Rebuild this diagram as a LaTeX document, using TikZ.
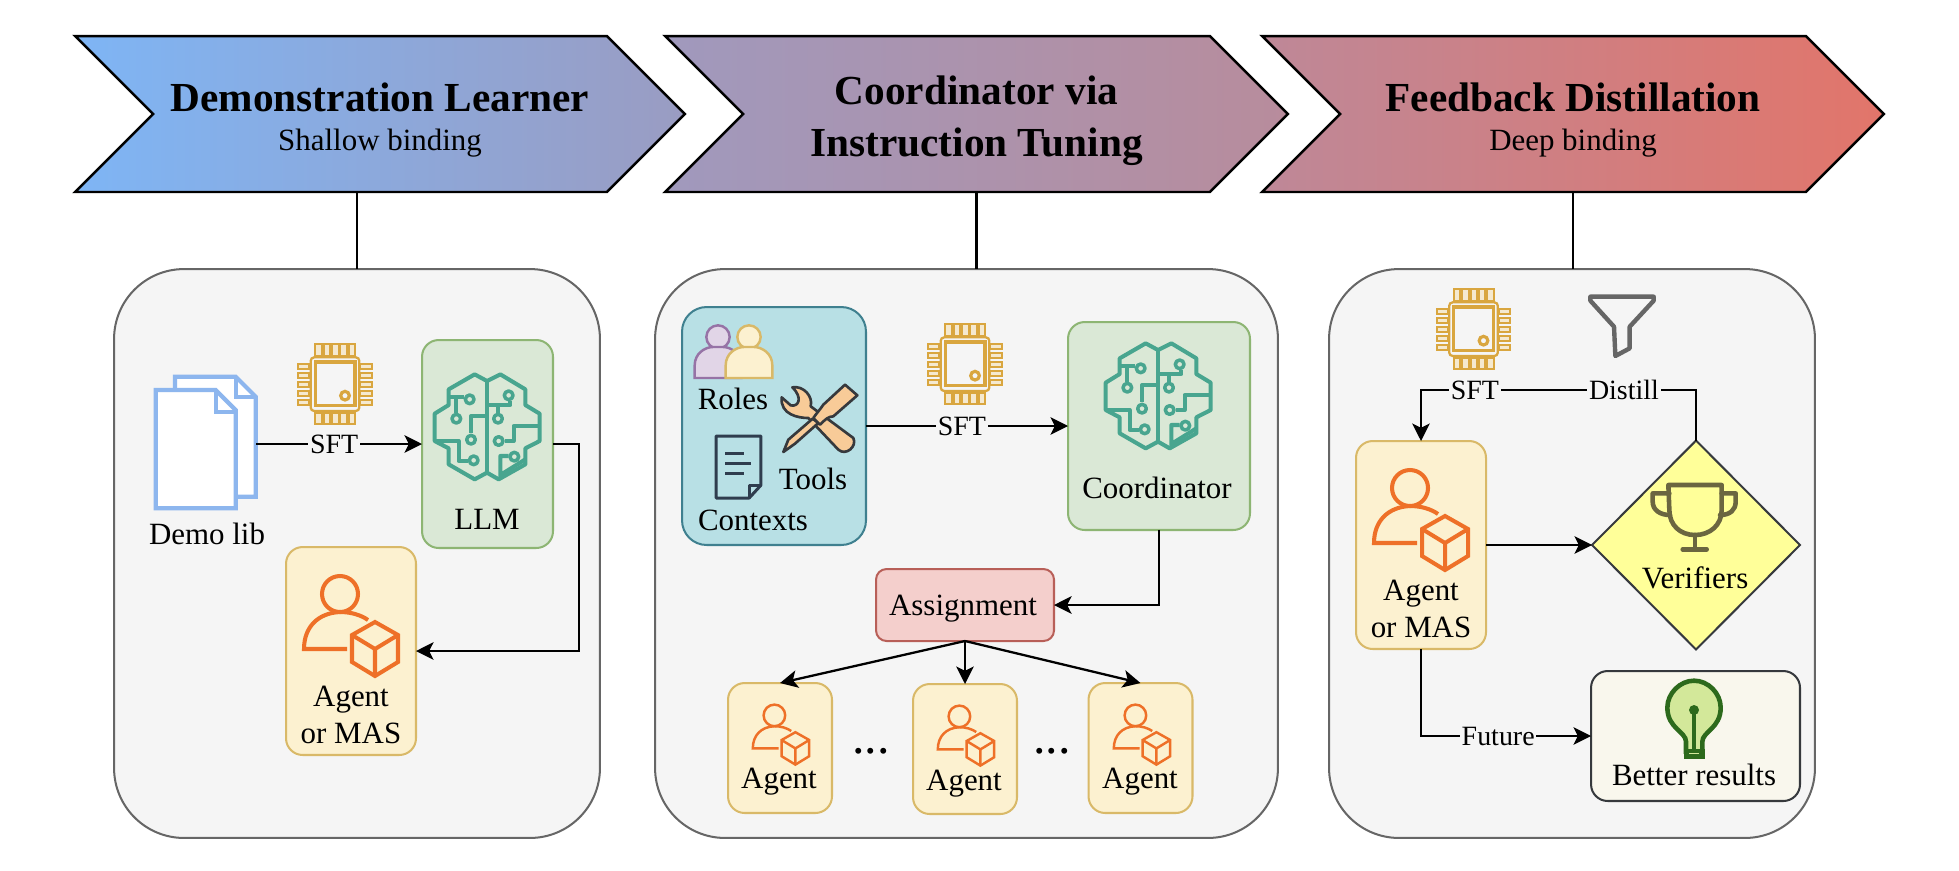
\documentclass[tikz,border=0pt]{standalone}
\usepackage{fontspec}
\setmainfont{Liberation Serif}
\usetikzlibrary{arrows.meta,shapes.geometric,shapes.symbols}
\definecolor{chipc}{HTML}{D9A63F}
\definecolor{brainc}{HTML}{48A58F}
\definecolor{agentc}{HTML}{EE7028}
\definecolor{docc}{HTML}{8DB6EE}
\definecolor{darkc}{HTML}{2F3D4E}
\definecolor{toolc}{HTML}{36393D}
\definecolor{toolf}{HTML}{F8CB98}
\definecolor{greenf}{HTML}{DAE8D6}
\definecolor{greend}{HTML}{8DB573}
\definecolor{yellf}{HTML}{FCF1D0}
\definecolor{yelld}{HTML}{D9B968}
\definecolor{tealf}{HTML}{B8E0E5}
\definecolor{teald}{HTML}{3F808F}
\definecolor{redf}{HTML}{F4CFCC}
\definecolor{redd}{HTML}{B85F58}
\definecolor{purpf}{HTML}{E1D5E7}
\definecolor{purpd}{HTML}{9673A6}
\definecolor{verif}{HTML}{FFFF99}
\definecolor{betterf}{HTML}{F9F7ED}
\definecolor{bulbf}{HTML}{D3E89A}
\definecolor{bulbd}{HTML}{2D6A1C}
\definecolor{cupc}{HTML}{6B6640}
\definecolor{grad1}{HTML}{7EB5F5}
\definecolor{grad2}{HTML}{9A9CC2}
\definecolor{grad3}{HTML}{A099BD}
\definecolor{grad4}{HTML}{B88C9C}
\definecolor{grad5}{HTML}{BE8898}
\definecolor{grad6}{HTML}{E2756A}
\tikzset{
  chev/.style={signal,signal from=west,signal to=east,signal pointer angle=90,draw=black,line width=1.4pt,
    minimum height=3.12cm,inner sep=0pt,outer sep=0pt,align=center,font=\fontsize{17.6}{22.5}\selectfont},
  panel/.style={draw=black!60,fill=black!4,rounded corners=1.4cm,line width=1.15pt,inner sep=0pt,outer sep=0pt},
  box/.style={draw,rounded corners=9.5pt,line width=1.15pt,inner sep=0pt,outer sep=0pt},
  agentbox/.style={box,draw=yelld,fill=yellf},
  llmbox/.style={box,draw=greend,fill=greenf},
  lbl/.style={font=\fontsize{17.6}{21}\selectfont,inner sep=0pt,anchor=base,align=center},
  sft/.style={font=\fontsize{15.9}{19}\selectfont,fill=black!4,inner sep=1pt},
  link/.style={line width=1.3pt,-{Stealth[length=10pt,width=10pt,inset=2.5pt]}},
  chipicon/.pic={
    \begin{scope}[x=.00667cm,y=-.00667cm,shift={(-735,-432)},draw=chipc,line width=1.3pt]
      \foreach \a in {686,711,736,761,786} {
        \draw[fill=chipc!25] (\a-10,313) rectangle (\a+10,347);
        \draw[fill=chipc!25] (\a-10,518) rectangle (\a+10,552);
      }
      \foreach \b in {380,407,434,461,488} {
        \draw[fill=chipc!25] (625,\b-8) rectangle (658,\b+8);
        \draw[fill=chipc!25] (810,\b-8) rectangle (845,\b+8);
      }
      \draw[rounded corners=2pt] (662,352) rectangle (808,513);
      \draw[line width=1.8pt] (676,366) rectangle (795,497);
      \draw[line width=1.8pt] (765,467) circle (13);
    \end{scope}
  },
  brainicon/.pic={
    \begin{scope}[x=.00667cm,y=-.00667cm,shift={(-265,-528)},draw=brainc,line width=2.3pt,line join=round]
      \draw (265,390)--(228,370)--(150,415)--(150,462)--(108,488)--(108,570)--(150,592)--(150,640)--(228,685)--(265,665)--(300,685)--(380,640)--(380,592)--(423,570)--(423,488)--(380,462)--(380,415)--(305,370)--cycle;
      \draw (265,390)--(265,665);
      \draw (150,438)--(195,438) (172,438)--(172,485);
      \draw (265,495)--(217,495)--(217,547);
      \draw (108,570)--(180,570)--(180,630)--(207,630);
      \draw (265,462)--(335,462)--(335,450) (298,462)--(298,485);
      \draw (423,525)--(345,525)--(345,570)--(318,570);
      \draw (305,680)--(305,615)--(330,615) (305,672)--(380,625);
      \foreach \u/\v in {213/445,173/503,217/566,225/628,330/433,298/503,300/570,347/617}
        \draw[line width=2pt] (\u,\v) circle (13);
    \end{scope}
  },
  agenticon/.pic={
    \begin{scope}[line join=miter]
      \path[pic actions,draw=agentc] (-11,-31) circle (18);
      \path[pic actions,draw=agentc] (-4,24) -- (-47,24) .. controls (-47,2) and (-33,-12) .. (-11,-13) .. controls (0,-13) and (10,-10) .. (17,-5);
      \path[pic actions,draw=agentc] (24,-3) -- (47,10) -- (47,37) -- (24,51) -- (1,37) -- (1,10) -- cycle;
      \path[pic actions,draw=agentc] (1,10) -- (24,24) -- (47,10) (24,24) -- (24,51);
    \end{scope}
  },
  personicon/.pic={
    \begin{scope}[x=.00667cm,y=-.00667cm]
      \path[pic actions] (0,0) circle (35);
      \path[pic actions] (-70,123) -- (-70,85) .. controls (-70,50) and (-40,30) .. (-15,30) -- (15,30) .. controls (40,30) and (70,50) .. (70,85) -- (70,123) -- cycle;
    \end{scope}
  },
  pagesicon/.pic={
    \begin{scope}[x=.00667cm,y=-.00667cm,shift={(-348,-609)},draw=docc,line width=2.4pt]
      \draw[fill=white] (255,410) -- (437,410) -- (497,470) -- (497,770) -- (255,770) -- cycle;
      \draw (437,410) -- (437,470) -- (497,470);
      \draw[fill=white] (197,450) -- (377,450) -- (437,510) -- (437,805) -- (197,805) -- cycle;
      \draw (377,450) -- (377,515) -- (437,515);
    \end{scope}
  },
  toolsicon/.pic={
    \begin{scope}[x=.00667cm,y=-.00667cm,shift={(-150,-130)},draw=toolc,line width=1.5pt,line join=round]
      \draw[fill=toolf] (67,38) .. controls (100,32) and (130,65) .. (122,95) -- (250,190) .. controls (262,215) and (228,245) .. (205,225) -- (115,130) .. controls (85,130) and (30,120) .. (35,68) -- (62,92) .. controls (85,98) and (100,70) .. (67,38) -- cycle;
      \draw[fill=toolf] (145,145) -- (75,207) -- (40,232) -- (55,195) -- (128,132) -- cycle;
      \draw[fill=toolf] (225,30) -- (262,62) -- (190,125) .. controls (175,125) and (165,135) .. (150,150) -- (130,130) .. controls (140,115) and (150,105) .. (160,90) -- cycle;
    \end{scope}
  },
  pageicon/.pic={
    \begin{scope}[x=.00667cm,y=.00667cm,draw=darkc,line width=1.7pt,line join=round]
      \draw (-67,-93) -- (32,-93) -- (67,-55) -- (67,93) -- (-67,93) -- cycle;
      \draw (32,-93) -- (32,-55) -- (67,-55);
      \draw (-40,-18) -- (15,-18) (-40,12) -- (37,12) (-40,42) -- (15,42);
    \end{scope}
  },
  funnelicon/.pic={
    \begin{scope}[x=.00667cm,y=-.00667cm,shift={(-127,-138)},draw=black!60,line width=2.5pt,line join=round]
      \draw (32,50) -- (222,50) -- (222,62) -- (150,140) -- (150,205) -- (107,228) -- (103,140) -- (32,62) -- cycle;
    \end{scope}
  },
  trophyicon/.pic={
    \begin{scope}[x=.00667cm,y=-.00667cm,shift={(-345,-705)},draw=cupc,line width=2.6pt,line join=round,line cap=round]
      \draw (265,615) -- (425,615) -- (425,690) .. controls (425,735) and (390,765) .. (345,765) .. controls (300,765) and (268,735) .. (268,690) -- cycle;
      \draw (268,640) -- (218,640) -- (218,665) .. controls (218,690) and (240,705) .. (270,705);
      \draw (425,640) -- (467,640) -- (467,665) .. controls (467,690) and (450,705) .. (420,705);
      \draw (345,765) -- (345,805) (308,808) -- (380,808);
    \end{scope}
  },
  bulbicon/.pic={
    \begin{scope}[x=.00667cm,y=-.00667cm,shift={(-342,-180)},draw=bulbd,line width=2.6pt]
      \draw[fill=bulbf] (318,275) -- (318,245) .. controls (318,215) and (262,205) .. (262,143) .. controls (262,100) and (300,62) .. (342,62) .. controls (385,62) and (422,100) .. (422,143) .. controls (422,205) and (367,215) .. (367,245) -- (367,275) -- cycle;
      \draw[line width=2.6pt] (342,150) -- (342,270);
      \fill[bulbd] (342,150) circle (15);
      \fill[bulbd] (312,268) rectangle (375,298);
      \fill[bulbf] (328,278) rectangle (358,283);
    \end{scope}
  }
}
\begin{document}
\begin{tikzpicture}[x=0.02cm,y=-0.02cm]
  \useasboundingbox (0,0) rectangle (1959,870);
  \node[panel,minimum width=9.72cm,minimum height=11.38cm] (panel1) at (357,553.5) {};
  \node[panel,minimum width=12.46cm,minimum height=11.38cm] (panel2) at (966.5,553.5) {};
  \node[panel,minimum width=9.72cm,minimum height=11.38cm] (panel3) at (1572,553.5) {};

  \node[chev,minimum width=12.2cm,left color=grad1,right color=grad2] (chev1) at (380,114)
    {\rule{0pt}{23pt}{\fontsize{23.5}{22.5}\selectfont\bfseries Demonstration Learner}\\Shallow binding};
  \node[chev,minimum width=12.46cm,left color=grad3,right color=grad4] (chev2) at (976.5,114)
    {\rule{0pt}{24pt}\fontsize{23.5}{22.5}\selectfont\bfseries Coordinator via\\[6.7pt]\fontsize{23.5}{22.5}\selectfont\bfseries Instruction Tuning};
  \node[chev,minimum width=12.44cm,left color=grad5,right color=grad6] (chev3) at (1573,114)
    {\rule{0pt}{23pt}{\fontsize{23.5}{22.5}\selectfont\bfseries Feedback Distillation}\\Deep binding};
  \draw[line width=1.2pt] (panel1.north) -- (panel1.north |- chev1.south);
  \draw[line width=1.2pt] (chev2.south) -- (chev2.south |- panel2.north);
  \draw[line width=1.2pt] (chev3.south) -- (chev3.south |- panel3.north);

  \node[inner sep=0pt,minimum width=2cm,minimum height=2.62cm] (demolib) at (206,444) {};
  \pic at (206,443) {pagesicon};
  \node[lbl] (demolbl) at (207,544) {Demo lib};
  \pic at (335,384) {chipicon};
  \node[llmbox,minimum width=2.62cm,minimum height=4.16cm] (llm) at (487.5,444) {};
  \pic at (487,427) {brainicon};
  \node[lbl] (llmlbl) at (487,529) {LLM};
  \node[agentbox,minimum width=2.6cm,minimum height=4.16cm] (agent1) at (351,651) {};
  \pic[line width=2.3pt] at (351,625) {agenticon};
  \node[lbl] (agent1lbl) at (351,706) {Agent};
  \node[lbl] (agent1mas) at (351,743) {or MAS};
  \coordinate (bend1) at (579,651);
  \draw[link] (demolib.east) -- node[sft,pos=.47] (sft1) {SFT} (llm.west);
  \draw[link] (llm.east) -| (bend1) -- (agent1.east);

  \node[box,rounded corners=14pt,draw=teald,fill=tealf,minimum width=3.68cm,minimum height=4.76cm] (ctx) at (774,426) {};
  \pic[draw=purpd,fill=purpf,line width=1.4pt] at (718,337) {personicon};
  \pic[draw=yelld,fill=yellf,line width=1.4pt] at (749,337) {personicon};
  \node[lbl] (roleslbl) at (733,409) {Roles};
  \pic at (820,418) {toolsicon};
  \node[lbl] (toolslbl) at (813,489) {Tools};
  \pic at (738.5,467) {pageicon};
  \node[lbl] (ctxlbl) at (753,530) {Contexts};
  \pic at (965,364) {chipicon};
  \node[llmbox,minimum width=3.64cm,minimum height=4.16cm] (coord) at (1159,426) {};
  \pic at (1158,396) {brainicon};
  \node[lbl] (coordlbl) at (1157,498) {Coordinator};
  \node[box,rounded corners=6pt,draw=redd,fill=redf,minimum width=3.56cm,minimum height=1.44cm] (assign) at (965,605) {};
  \node[lbl] (assignlbl) at (963,615) {Assignment};
  \node[agentbox,minimum width=2.08cm,minimum height=2.6cm] (worker1) at (780,748) {};
  \node[agentbox,minimum width=2.08cm,minimum height=2.6cm] (worker2) at (965,749) {};
  \node[agentbox,minimum width=2.08cm,minimum height=2.6cm] (worker3) at (1140.5,748) {};
  \pic[scale=.6,line width=1.4pt] at (781,734) {agenticon};
  \pic[scale=.6,line width=1.4pt] at (966,735) {agenticon};
  \pic[scale=.6,line width=1.4pt] at (1142,734) {agenticon};
  \node[lbl] (worker1lbl) at (779,788) {Agent};
  \node[lbl] (worker2lbl) at (964,790) {Agent};
  \node[lbl] (worker3lbl) at (1140,788) {Agent};
  \node[lbl,font=\fontsize{28.4}{32}\selectfont] (dots1) at (871,753) {...};
  \node[lbl,font=\fontsize{28.4}{32}\selectfont] (dots2) at (1052,753) {...};
  \draw[link] (ctx.east) -- node[sft,pos=.475] (sft2) {SFT} (coord.west);
  \draw[link] (coord.south) |- (assign.east);
  \draw[link] (assign.south) -- (worker1.north);
  \draw[link] (assign.south) -- (worker2.north);
  \draw[link] (assign.south) -- (worker3.north);

  \pic at (1473.5,329) {chipicon};
  \pic at (1622,326) {funnelicon};
  \node[agentbox,minimum width=2.6cm,minimum height=4.16cm] (agent3) at (1421,545) {};
  \pic[line width=2.3pt] at (1421,519) {agenticon};
  \node[lbl] (agent3lbl) at (1421,600) {Agent};
  \node[lbl] (agent3mas) at (1421,637) {or MAS};
  \node[diamond,draw=toolc,fill=verif,line width=1.15pt,inner sep=0pt,outer sep=0pt,minimum width=4.16cm,minimum height=4.18cm] (verif) at (1696,545) {};
  \pic at (1695,515) {trophyicon};
  \node[lbl] (veriflbl) at (1695,588) {Verifiers};
  \node[box,draw=toolc,fill=betterf,minimum width=4.18cm,minimum height=2.6cm] (better) at (1695.5,736) {};
  \pic at (1694,720) {bulbicon};
  \node[lbl] (betterlbl) at (1694,785) {Better results};
  \coordinate (bend3) at (1421,390);
  \draw[link] (verif.north) |- node[sft,pos=.631] (distill) {Distill} node[sft,pos=.902] (sft3) {SFT} (bend3) -- (agent3.north);
  \draw[link] (agent3.east) -- (verif.west);
  \draw[link] (agent3.south) |- node[sft,pos=.727] (future) {Future} (better.west);
\end{tikzpicture}
\end{document}
